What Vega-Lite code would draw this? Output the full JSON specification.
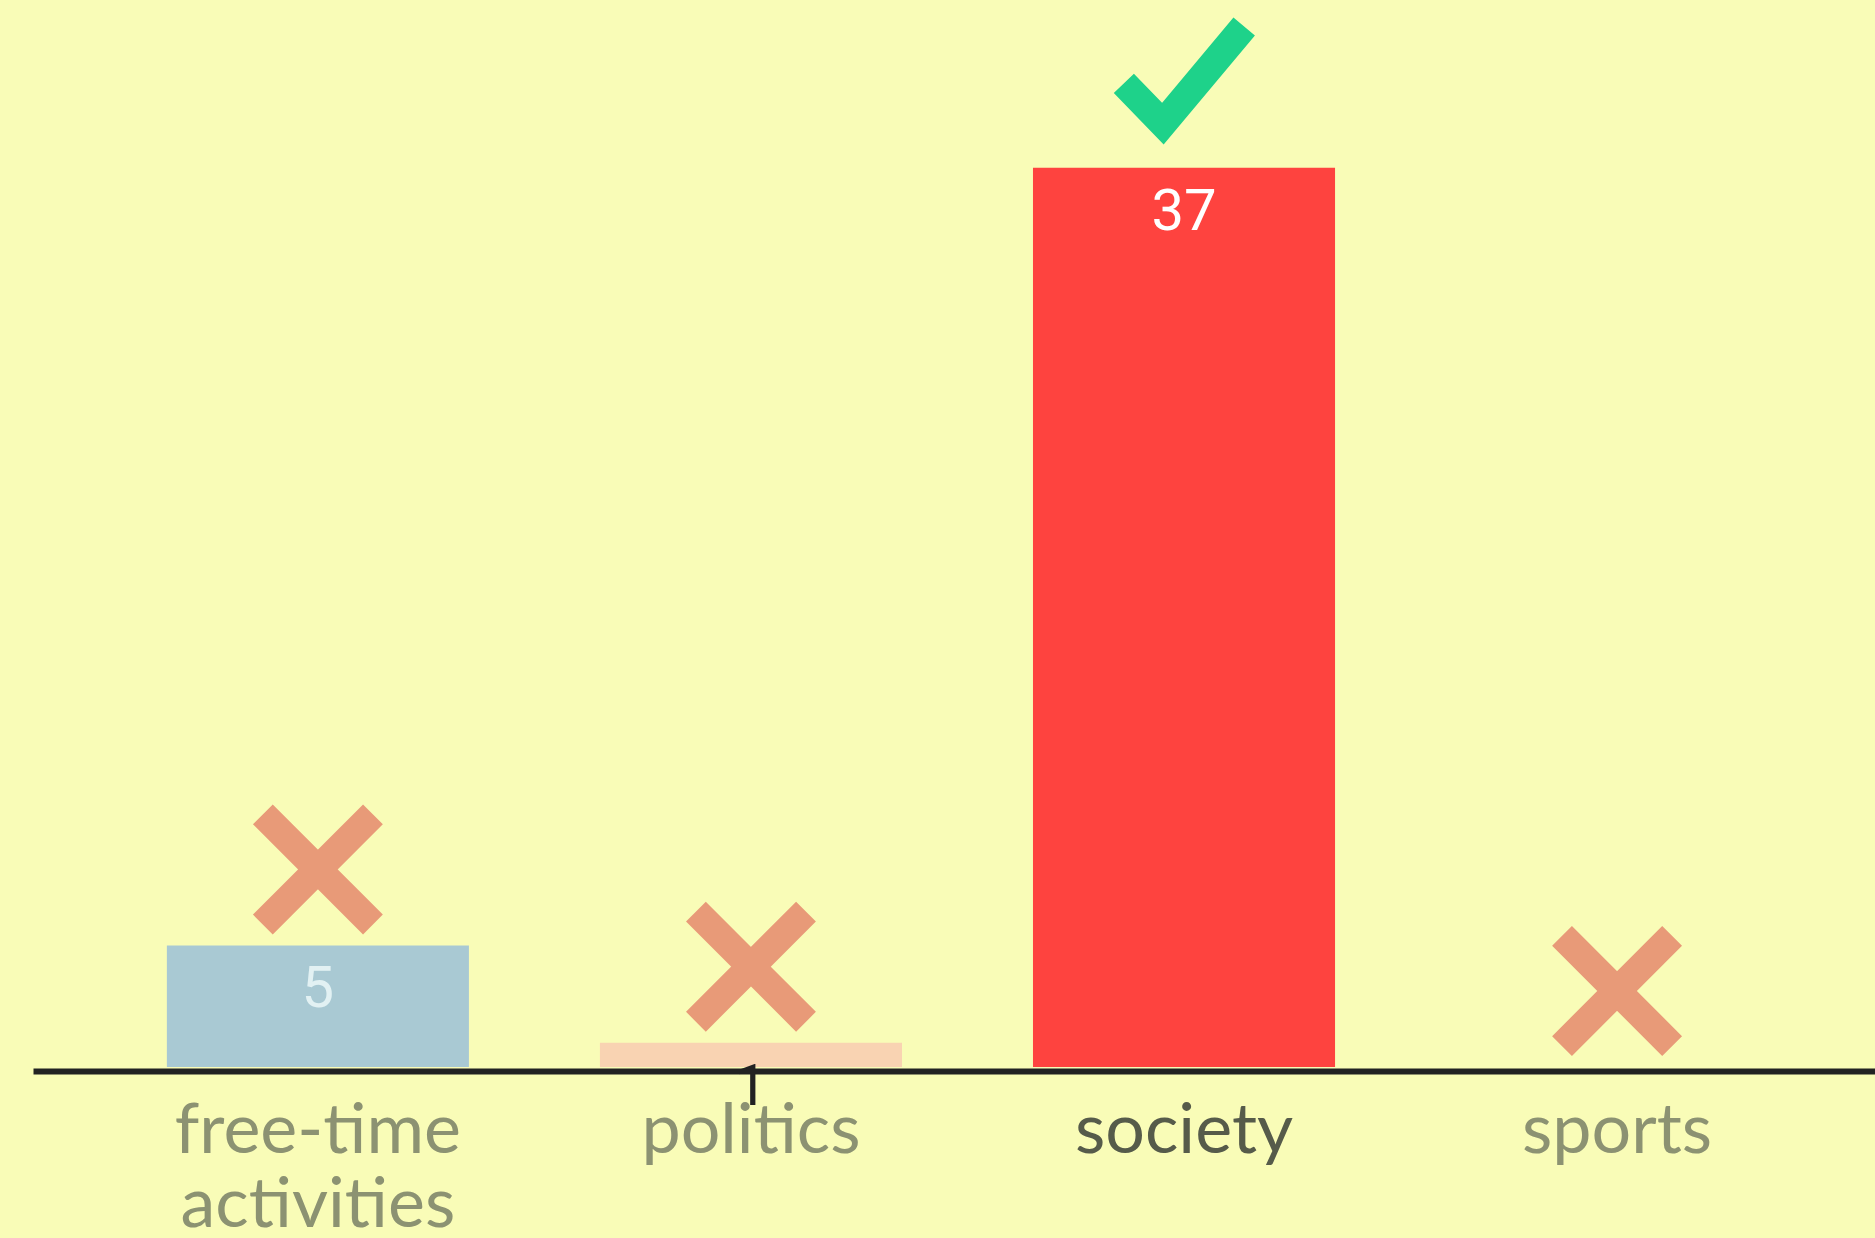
{
  "$schema": "https://vega.github.io/schema/vega-lite/v6.json",
  "width": 1842,
  "height": 1067,
  "autosize": {"type": "none"},
  "padding": {"left": 33, "top": 0, "right": 0, "bottom": 171},
  "background": "#f9fcb7",
  "config": {"view": {"stroke": null}},
  "data": {
    "values": [
      {"topic": "free-time activities", "count": 5, "verdict": "wrong"},
      {"topic": "politics", "count": 1, "verdict": "wrong"},
      {"topic": "society", "count": 37, "verdict": "right"},
      {"topic": "sports", "count": 0, "verdict": "wrong"}
    ]
  },
  "encoding": {
    "x": {
      "field": "topic",
      "type": "nominal",
      "sort": null,
      "scale": {"paddingInner": 0.3025, "paddingOuter": 0.278, "align": 0.556},
      "axis": {
        "title": null,
        "offset": 4,
        "zindex": 1,
        "domainColor": "#222222",
        "domainWidth": 6,
        "ticks": false,
        "tickSize": 0,
        "labelPadding": 26,
        "labelAngle": 0,
        "labelFont": "Lato",
        "labelFontSize": 70,
        "labelLineHeight": 74,
        "labelLimit": 0,
        "labelExpr": "split(datum.label, ' ')",
        "labelColor": {"condition": {"test": "datum.value == 'society'", "value": "#565b4a"}, "value": "#8c9272"},
        "labelOverlap": false
      }
    },
    "y": {
      "field": "count",
      "type": "quantitative",
      "scale": {"domain": [0, 43.9], "nice": false, "zero": true},
      "axis": null
    }
  },
  "layer": [
    {
      "mark": {"type": "bar"},
      "encoding": {
        "color": {
          "field": "topic",
          "type": "nominal",
          "scale": {"domain": ["free-time activities", "politics", "society", "sports"], "range": ["#a9c9d3", "#f9d3b2", "#fe433f", "#f9fcb7"]},
          "legend": null
        }
      }
    },
    {
      "transform": [{"filter": "datum.count > 0"}],
      "mark": {"type": "text", "baseline": "middle", "align": "center", "dy": 45, "font": "Roboto", "fontWeight": 400, "fontSize": 58},
      "encoding": {
        "text": {"field": "count", "type": "quantitative"},
        "color": {
          "field": "topic",
          "type": "nominal",
          "scale": {"domain": ["free-time activities", "politics", "society"], "range": ["#e2f1f3", "#222222", "#ffffff"]},
          "legend": null
        }
      }
    },
    {
      "mark": {"type": "point", "filled": false, "size": 16384, "strokeWidth": 28, "strokeCap": "butt", "strokeJoin": "miter", "opacity": 1, "yOffset": -76},
      "encoding": {
        "shape": {
          "field": "verdict",
          "type": "nominal",
          "scale": {"domain": ["wrong", "right"], "range": ["M-0.86,-0.86L0.86,0.86M-0.86,0.86L0.86,-0.86", "M-0.94,-0.13L-0.33,0.5L0.94,-1.02"]},
          "legend": null
        },
        "color": {
          "field": "verdict",
          "type": "nominal",
          "scale": {"domain": ["wrong", "right"], "range": ["#e89a78", "#1ed28a"]},
          "legend": null
        }
      }
    }
  ],
  "resolve": {"scale": {"color": "independent"}}
}
